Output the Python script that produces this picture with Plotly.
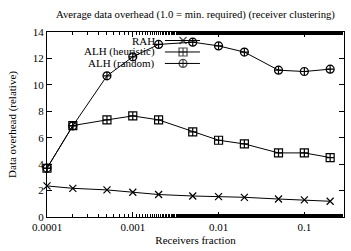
import plotly.graph_objects as go
import math

fractions = [0.0001, 0.0002, 0.0005, 0.001, 0.002, 0.005, 0.01, 0.02, 0.05, 0.1, 0.2]
rah = [2.35, 2.17, 2.05, 1.87, 1.70, 1.59, 1.54, 1.49, 1.36, 1.29, 1.19]
alh_heuristic = [3.69, 6.92, 7.35, 7.65, 7.35, 6.44, 5.81, 5.53, 4.85, 4.85, 4.5]
alh_random = [3.7, 6.9, 10.68, 12.12, 13.06, 13.23, 12.95, 12.48, 11.11, 11.01, 11.19]
series_names = ["RAH", "ALH (heuristic)", "ALH (random)"]
x_tickvals = [0.0001, 0.001, 0.01, 0.1]
x_ticktext = ["0.0001", "0.001", "0.01", "0.1"]
y_tickvals = [0, 2, 4, 6, 8, 10, 12, 14]

FONT = "Liberation Serif, Times New Roman, serif"
symbols = ["x-thin-open", "square-cross-open", "circle-cross-open"]
sizes = [7, 8, 8]

fig = go.Figure()
for name, vals, sym, sz in zip(series_names, [rah, alh_heuristic, alh_random], symbols, sizes):
    fig.add_trace(go.Scatter(
        x=fractions, y=vals, mode="lines+markers", name=name,
        line=dict(color="black", width=1),
        marker=dict(symbol=sym, size=sz, color="black", line=dict(color="black", width=1.2)),
        showlegend=False, cliponaxis=False,
    ))

# manual gnuplot-style legend (text right-aligned, sample to the right)
leg_y = [0.954, 0.892, 0.830]
for name, sym, sz, ly in zip(series_names, symbols, sizes, leg_y):
    fig.add_trace(go.Scatter(
        x=[0.397, 0.458, 0.515], y=[ly, ly, ly], xaxis="x2", yaxis="y2",
        mode="lines+markers", showlegend=False, cliponaxis=False, hoverinfo="skip",
        line=dict(color="black", width=1),
        marker=dict(symbol=sym, size=[0, sz, 0], color="black", line=dict(color="black", width=1.2)),
    ))
    fig.add_annotation(x=0.372, y=ly, xref="paper", yref="paper", text=name,
                       showarrow=False, xanchor="right", yanchor="middle",
                       font=dict(family=FONT, size=11, color="black"))

fig.update_layout(
    template="none",
    width=351, height=251,
    margin=dict(l=47, r=7, t=32, b=34, autoexpand=False),
    paper_bgcolor="white", plot_bgcolor="white",
    font=dict(family=FONT, size=11, color="black"),
    title=dict(text="Average data overhead (1.0 = min. required) (receiver clustering)",
               x=0.557, xanchor="center", y=0.945, yanchor="middle",
               font=dict(family=FONT, size=10.7, color="black")),
    xaxis=dict(type="log", range=[-4, math.log10(0.29)], automargin=False,
               tickvals=x_tickvals, ticktext=x_ticktext,
               ticks="inside", ticklen=5, tickcolor="black", tickwidth=1,
               mirror="allticks", showline=True, linecolor="black", linewidth=1,
               showgrid=False, zeroline=False,
               minor=dict(ticks="inside", ticklen=3, tickcolor="black", showgrid=False),
               tickfont=dict(family=FONT, size=11),
               title=dict(text="Receivers fraction", font=dict(family=FONT, size=11), standoff=4)),
    yaxis=dict(range=[0, 14], tickvals=y_tickvals, automargin=False,
               ticks="inside", ticklen=5, tickcolor="black", tickwidth=1,
               mirror="allticks", showline=True, linecolor="black", linewidth=1,
               showgrid=False, zeroline=False,
               tickfont=dict(family=FONT, size=11),
               title=dict(text="Data overhead (relative)", font=dict(family=FONT, size=11), standoff=13)),
    xaxis2=dict(range=[0, 1], overlaying="x", visible=False, anchor="y2"),
    yaxis2=dict(range=[0, 1], overlaying="y", visible=False, anchor="x2"),
)

fig.write_html("out.html", config={"displayModeBar": False},
               post_script="document.body.style.margin='0';")
